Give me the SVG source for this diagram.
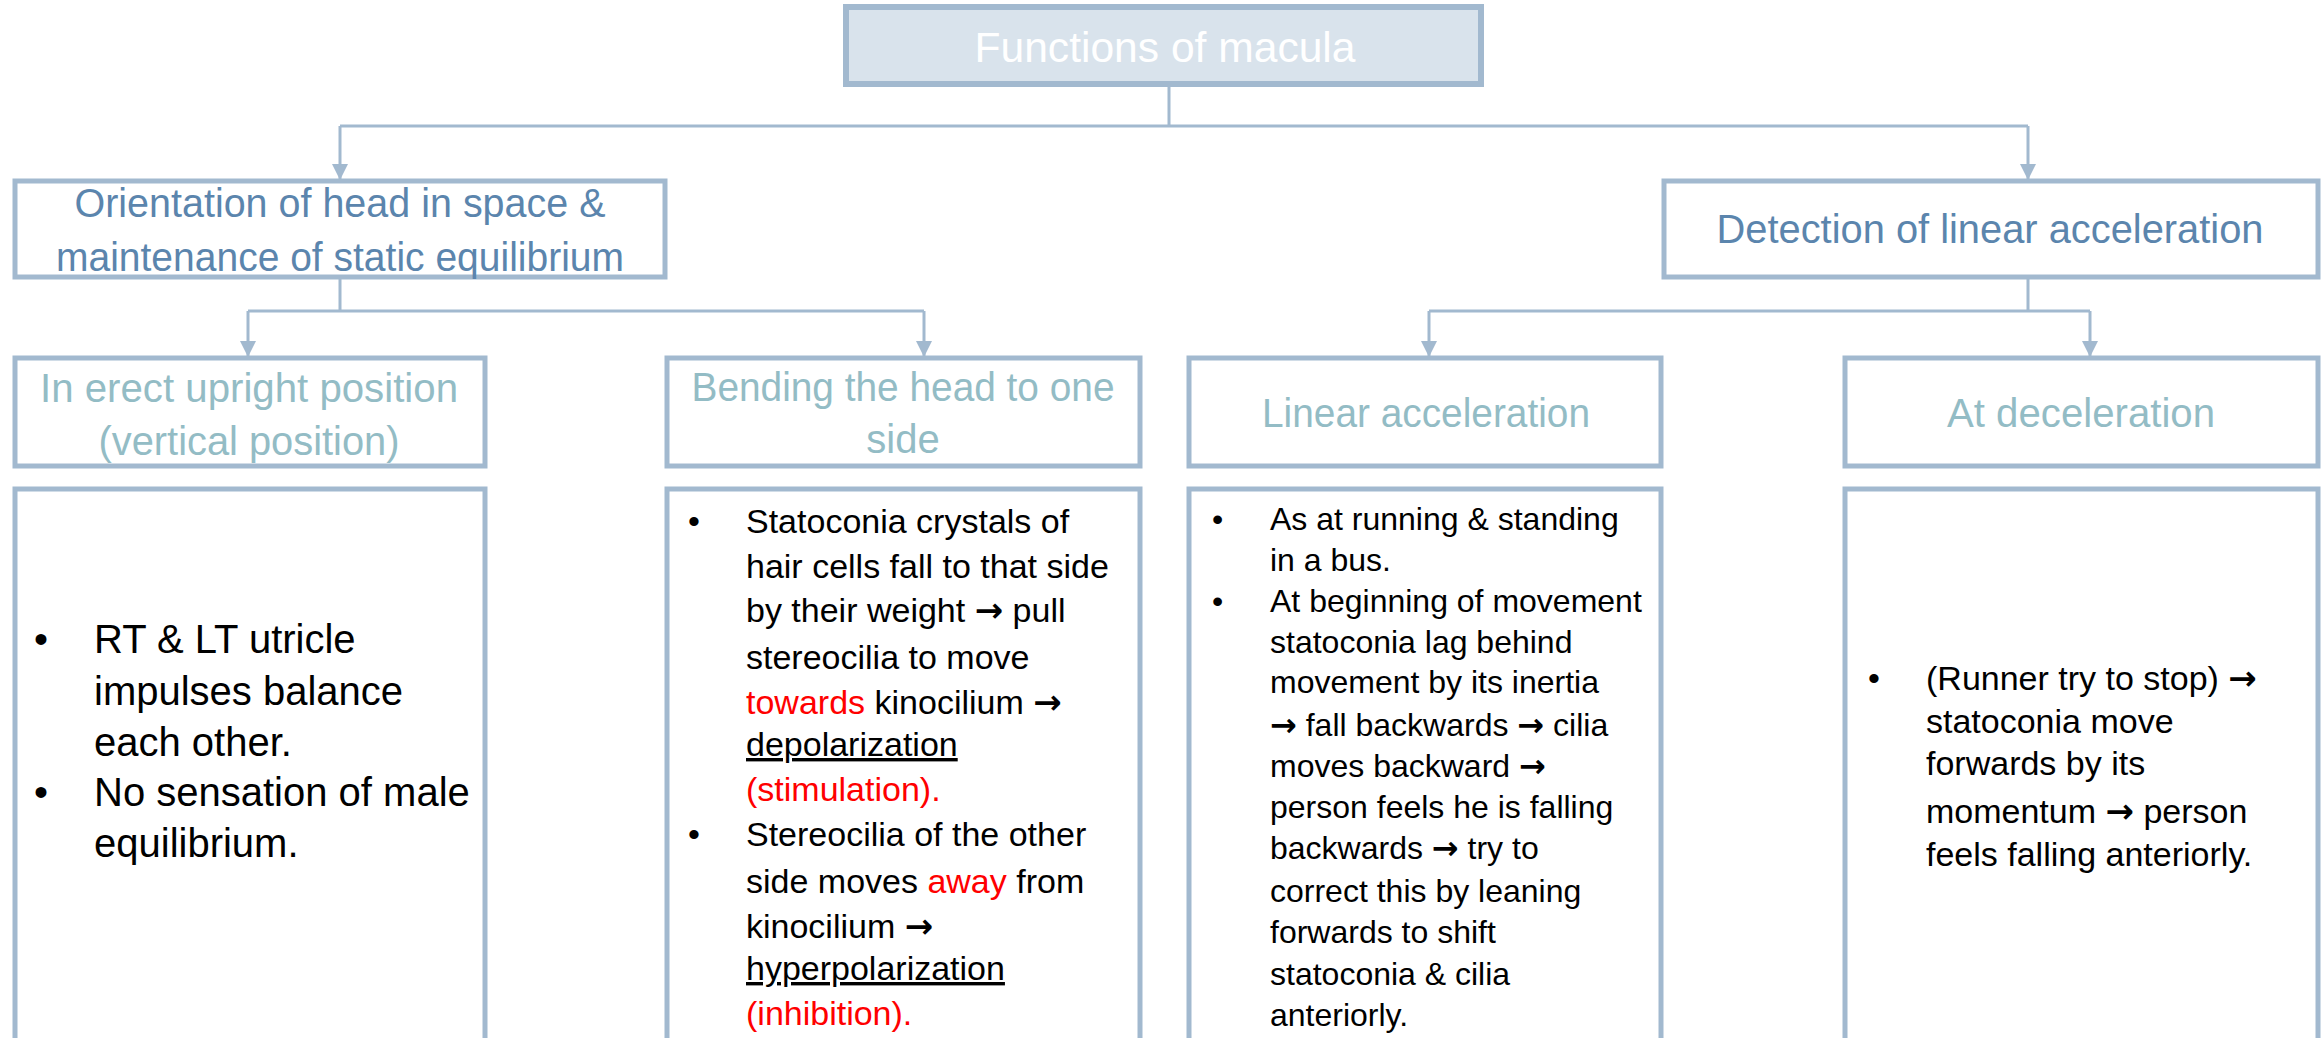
<svg xmlns="http://www.w3.org/2000/svg" width="2323" height="1038" viewBox="0 0 2323 1038">
<style>
.box{fill:#ffffff;stroke:#a2b9cf;stroke-width:5}
.top{fill:#d9e3ec;stroke:#a2b9cf;stroke-width:6}
.conn{fill:none;stroke:#a2b9cf;stroke-width:3}
.t0{font-family:"Liberation Sans",Arial,sans-serif;font-size:42px;fill:#ffffff;text-anchor:middle}
.t1{font-family:"Liberation Sans",Arial,sans-serif;font-size:40px;fill:#5b85ad;text-anchor:middle}
.t2{font-family:"Liberation Sans",Arial,sans-serif;font-size:40px;fill:#93bcc5;text-anchor:middle}
.b{font-family:"Liberation Sans",Arial,sans-serif;fill:#000000}
.r{fill:#ff0000}
.u{text-decoration:underline}
.ar{font-family:"DejaVu Sans",sans-serif;font-weight:bold}
</style>
<defs>
<marker id="ah" markerUnits="userSpaceOnUse" markerWidth="18" markerHeight="18" refX="16" refY="8" orient="auto">
<path d="M0,0 L16,8 L0,16 z" fill="#a2b9cf"/>
</marker>
</defs>
<g id="connectors">
<path class="conn" d="M1169,84 V126 M340,126 H2028"/>
<path class="conn" d="M340,126 V180" marker-end="url(#ah)"/>
<path class="conn" d="M2028,126 V180" marker-end="url(#ah)"/>
<path class="conn" d="M340,278 V311 M248,311 H924"/>
<path class="conn" d="M248,311 V357" marker-end="url(#ah)"/>
<path class="conn" d="M924,311 V357" marker-end="url(#ah)"/>
<path class="conn" d="M2028,278 V311 M1429,311 H2090"/>
<path class="conn" d="M1429,311 V357" marker-end="url(#ah)"/>
<path class="conn" d="M2090,311 V357" marker-end="url(#ah)"/>
</g>
<g id="n-functions">
<rect class="top" x="846" y="7" width="635" height="77"/>
<text class="t0" x="1165" y="62" textLength="381" lengthAdjust="spacingAndGlyphs">Functions of macula</text>
</g>
<g id="n-orientation">
<rect class="box" x="15" y="181" width="650" height="96"/>
<text class="t1" x="340" y="217" textLength="531" lengthAdjust="spacingAndGlyphs">Orientation of head in space &amp;</text>
<text class="t1" x="340" y="271" textLength="568" lengthAdjust="spacingAndGlyphs">maintenance of static equilibrium</text>
</g>
<g id="n-detection">
<rect class="box" x="1664" y="181" width="654" height="96"/>
<text class="t1" x="1990" y="243" textLength="547" lengthAdjust="spacingAndGlyphs">Detection of linear acceleration</text>
</g>
<g id="n-erect">
<rect class="box" x="15" y="358" width="470" height="108"/>
<text class="t2" x="249" y="402" textLength="418" lengthAdjust="spacingAndGlyphs">In erect upright position</text>
<text class="t2" x="249" y="455" textLength="301" lengthAdjust="spacingAndGlyphs">(vertical position)</text>
</g>
<g id="n-bending">
<rect class="box" x="667" y="358" width="473" height="108"/>
<text class="t2" x="903" y="401" textLength="423" lengthAdjust="spacingAndGlyphs">Bending the head to one</text>
<text class="t2" x="903" y="453">side</text>
</g>
<g id="n-linear">
<rect class="box" x="1189" y="358" width="472" height="108"/>
<text class="t2" x="1426" y="427" textLength="328" lengthAdjust="spacingAndGlyphs">Linear acceleration</text>
</g>
<g id="n-decel">
<rect class="box" x="1845" y="358" width="473" height="108"/>
<text class="t2" x="2081" y="427" textLength="268" lengthAdjust="spacingAndGlyphs">At deceleration</text>
</g>
<g id="n-erect-detail">
<rect class="box" x="15" y="489" width="470" height="600"/>
<g class="b" font-size="40">
<text x="34" y="653">•</text>
<text x="94" y="653">RT &amp; LT utricle</text>
<text x="94" y="705">impulses balance</text>
<text x="94" y="756">each other.</text>
<text x="34" y="806">•</text>
<text x="94" y="806">No sensation of male</text>
<text x="94" y="857">equilibrium.</text>
</g>
</g>
<g id="n-bending-detail">
<rect class="box" x="667" y="489" width="473" height="600"/>
<g class="b" font-size="34">
<text x="688" y="533">•</text>
<text x="746" y="533">Statoconia crystals of</text>
<text x="746" y="578">hair cells fall to that side</text>
<text x="746" y="622">by their weight <tspan class="ar">→</tspan> pull</text>
<text x="746" y="669">stereocilia to move</text>
<text x="746" y="714"><tspan class="r">towards</tspan> kinocilium <tspan class="ar">→</tspan></text>
<text x="746" y="756" class="u">depolarization</text>
<text x="746" y="801" class="r">(stimulation).</text>
<text x="688" y="846">•</text>
<text x="746" y="846">Stereocilia of the other</text>
<text x="746" y="893">side moves <tspan class="r">away</tspan> from</text>
<text x="746" y="938">kinocilium <tspan class="ar">→</tspan></text>
<text x="746" y="980" class="u">hyperpolarization</text>
<text x="746" y="1025" class="r">(inhibition).</text>
</g>
</g>
<g id="n-linear-detail">
<rect class="box" x="1189" y="489" width="472" height="600"/>
<g class="b" font-size="32">
<text x="1212" y="530">•</text>
<text x="1270" y="530">As at running &amp; standing</text>
<text x="1270" y="571">in a bus.</text>
<text x="1212" y="612">•</text>
<text x="1270" y="612">At beginning of movement</text>
<text x="1270" y="653">statoconia lag behind</text>
<text x="1270" y="693">movement by its inertia</text>
<text x="1270" y="736"><tspan class="ar">→</tspan> fall backwards <tspan class="ar">→</tspan> cilia</text>
<text x="1270" y="777">moves backward <tspan class="ar">→</tspan></text>
<text x="1270" y="818">person feels he is falling</text>
<text x="1270" y="859">backwards <tspan class="ar">→</tspan> try to</text>
<text x="1270" y="902">correct this by leaning</text>
<text x="1270" y="943">forwards to shift</text>
<text x="1270" y="985">statoconia &amp; cilia</text>
<text x="1270" y="1026">anteriorly.</text>
</g>
</g>
<g id="n-decel-detail">
<rect class="box" x="1845" y="489" width="473" height="600"/>
<g class="b" font-size="34">
<text x="1868" y="690">•</text>
<text x="1926" y="690">(Runner try to stop) <tspan class="ar">→</tspan></text>
<text x="1926" y="733">statoconia move</text>
<text x="1926" y="775">forwards by its</text>
<text x="1926" y="823">momentum <tspan class="ar">→</tspan> person</text>
<text x="1926" y="866">feels falling anteriorly.</text>
</g>
</g>
</svg>
